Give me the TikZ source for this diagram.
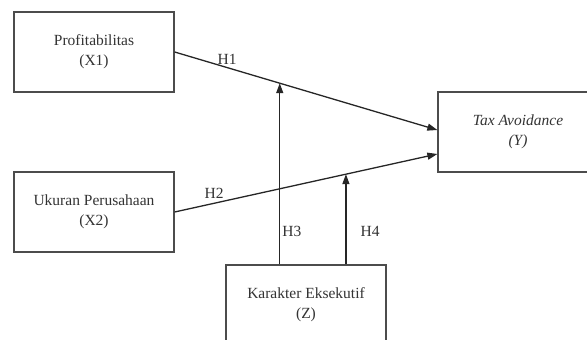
\documentclass[tikz,border=0pt]{standalone}
\usepackage{fontspec}
\setmainfont{Liberation Serif}
\usetikzlibrary{arrows.meta,positioning,calc}

\begin{document}
\begin{tikzpicture}[
    x=1pt, y=1pt,
    box/.style={draw=black!70, line width=1.3pt, minimum width=160pt, minimum height=80pt, align=center, inner sep=4pt, font=\fontsize{15.5}{20}\selectfont, text=black!80},
    arr/.style={-{Triangle[length=10pt,width=7pt]}, line width=1.3pt, draw=black!85},
    lbl/.style={font=\fontsize{15.5}{18}\selectfont, text=black!80, inner sep=2pt}
  ]
    \clip (0,0) rectangle (587,340);

    \node[box] (x1) at (94,288) {Profitabilitas\\(X1)};
    \node[box] (x2) at (94,128) {Ukuran Perusahaan\\(X2)};
    \node[box] (y) at (518,208) {\textit{Tax Avoidance}\\\textit{(Y)}};
    \node[box] (z) at (306,35) {Karakter Eksekutif\\(Z)};

    \draw[arr] (x1.east) -- node[pos=0.2, above, lbl] {H1} coordinate[pos=0.4] (m1) ($(y.west)+(0,2)$);
    \draw[arr] (x2.east) -- node[pos=0.15, above, lbl, yshift=2pt] {H2} coordinate[pos=0.652] (m2) ($(y.west)+(0,-22)$);

    \draw[arr] (m1 |- z.north) -- node[pos=0.18, right, lbl] {H3} (m1);
    \draw[arr] (m2 |- z.north) -- node[pos=0.36, right, lbl, xshift=12pt] {H4} (m2);
  \end{tikzpicture}
\end{document}
